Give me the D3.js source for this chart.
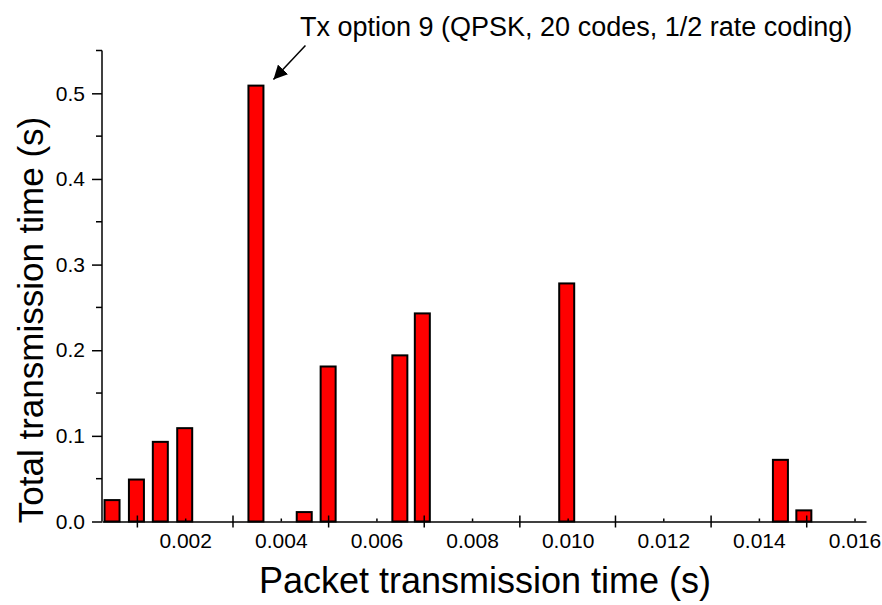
<!DOCTYPE html>
<style>
  body { margin: 0; background: #fff; }
  svg text { font-family: "Liberation Sans", Arial, sans-serif; fill: #000; }
  .axis path, .axis line { stroke: #000; stroke-width: 1.5; }
  .bar { fill: #ff0000; stroke: #000; stroke-width: 2; }
</style>
<body>
<svg id="chart" width="882" height="605"></svg>
</body>
<script src="https://cdnjs.cloudflare.com/ajax/libs/d3/7.8.5/d3.min.js"></script>
<script>
  // packet transmission time (s) and total transmission time (s)
  const packetTime = [0.00047, 0.00098, 0.00148, 0.00199, 0.00348, 0.00449,
                      0.00499, 0.00649, 0.00696, 0.00998, 0.01445, 0.01494]
  const totalTime = [0.025, 0.049, 0.093, 0.109, 0.509, 0.011,
                     0.181, 0.194, 0.243, 0.278, 0.072, 0.013]
  const xLabelTicks = [0.002, 0.004, 0.006, 0.008, 0.010, 0.012, 0.014, 0.016]
  const xMajorTicks = [0.001, 0.003, 0.005, 0.007, 0.009, 0.011, 0.013, 0.015]
  const yTicks = [0, 0.1, 0.2, 0.3, 0.4, 0.5]
  const yMinorTicks = [0.05, 0.15, 0.25, 0.35, 0.45, 0.55]
  const note = 'Tx option 9 (QPSK, 20 codes, 1/2 rate coding)'
  const noteIndex = 4

  const svg = d3.select('#chart')
  const x = d3.scaleLinear().domain([0.00026, 0.01624]).range([102, 866])
  const y = d3.scaleLinear().domain([0, 0.55]).range([521.5, 50.5])
  const barW = 15

  // bars
  svg.selectAll('rect.bar')
      .data(packetTime)
    .enter().append('rect')
      .attr('class', 'bar')
      .attr('x', d => x(d) - barW / 2)
      .attr('y', (d, i) => y(totalTime[i]))
      .attr('width', barW)
      .attr('height', (d, i) => y(0) - y(totalTime[i]))

  // y axis
  const yAxis = svg.append('g').attr('class', 'axis')
      .attr('transform', `translate(${x.range()[0]},0)`)
  yAxis.call(d3.axisLeft(y).tickValues(yTicks).tickSize(10).tickPadding(7)
      .tickFormat(d3.format('.1f')).tickSizeOuter(0))
  yAxis.selectAll('text').style('font-size', '21px')
  yAxis.selectAll('.minor')
      .data(yMinorTicks)
    .enter().append('line')
      .attr('class', 'minor')
      .attr('x1', -6).attr('x2', 0)
      .attr('y1', y).attr('y2', y)
  yAxis.select('.domain').attr('d', `M0,${y(0)}V${y(0.55)}`)

  // x axis: labelled short ticks + long crossing ticks
  const xAxis = svg.append('g').attr('class', 'axis')
      .attr('transform', `translate(0,${y(0)})`)
  xAxis.call(d3.axisBottom(x).tickValues(xLabelTicks).tickSize(-3).tickPadding(12)
      .tickFormat(d3.format('.3f')).tickSizeOuter(0))
  xAxis.selectAll('text').style('font-size', '21px')
  xAxis.selectAll('.major')
      .data(xMajorTicks)
    .enter().append('line')
      .attr('class', 'major')
      .attr('x1', x).attr('x2', x)
      .attr('y1', -6).attr('y2', 6)

  // axis titles
  svg.append('text')
      .attr('x', 485).attr('y', 593)
      .attr('text-anchor', 'middle')
      .style('font-size', '36px')
      .text('Packet transmission time (s)')
  svg.append('text')
      .attr('transform', 'translate(43,320) rotate(-90)')
      .attr('text-anchor', 'middle')
      .style('font-size', '35px')
      .text('Total transmission time (s)')

  // annotation
  svg.append('defs').append('marker')
      .attr('id', 'head').attr('viewBox', '0 0 10 10')
      .attr('refX', 10).attr('refY', 5)
      .attr('markerWidth', 14).attr('markerHeight', 14)
      .attr('markerUnits', 'userSpaceOnUse')
      .attr('orient', 'auto')
    .append('path').attr('d', 'M0,0L10,5L0,10z').attr('fill', '#000')
  const tipX = x(packetTime[noteIndex]) + barW / 2 + 10
  const tipY = y(totalTime[noteIndex]) - 6
  svg.append('line')
      .attr('x1', tipX + 32).attr('y1', tipY - 34)
      .attr('x2', tipX).attr('y2', tipY)
      .attr('stroke', '#000').attr('stroke-width', 1.5)
      .attr('marker-end', 'url(#head)')
  svg.append('text')
      .attr('x', 300).attr('y', 36)
      .style('font-size', '27px')
      .text(note)
</script>
